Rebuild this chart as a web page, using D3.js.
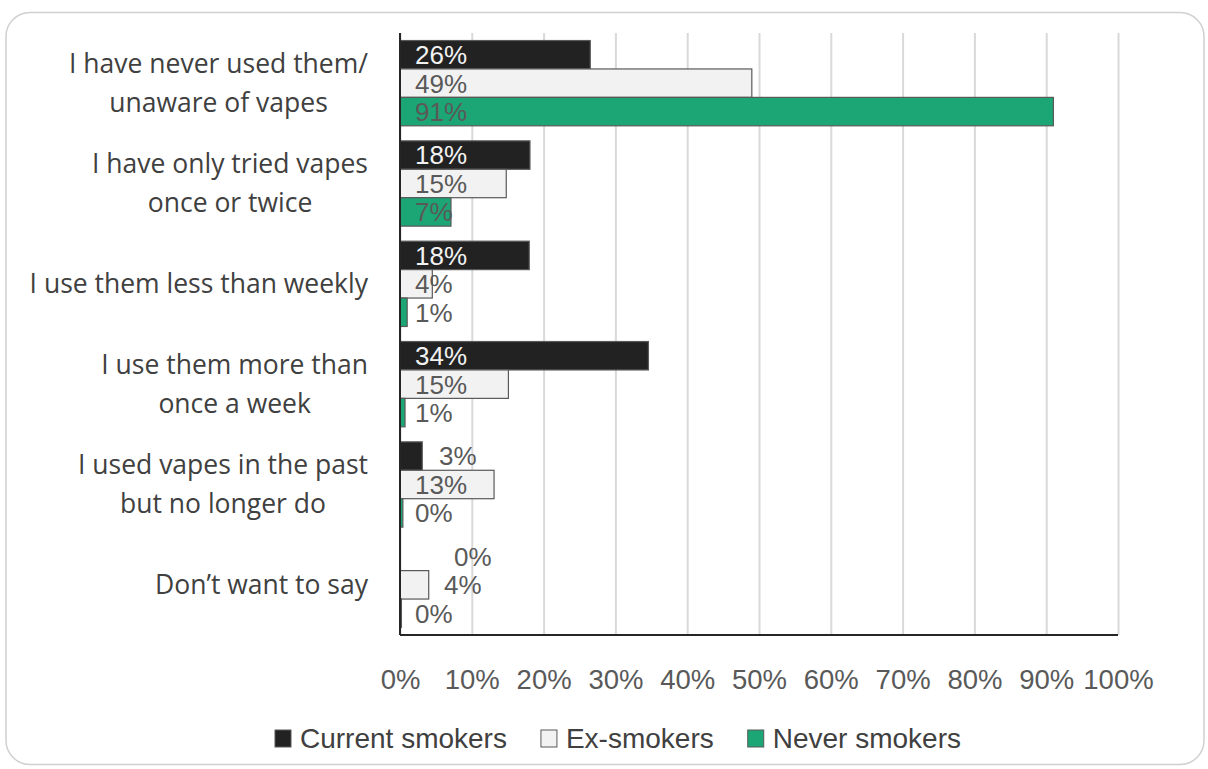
<!DOCTYPE html>
<html>
<head>
<meta charset="utf-8">
<script src="https://cdn.jsdelivr.net/npm/d3@7"></script>
<style>
	body { margin: 0; background: #fff; }
	svg { display: block; }
</style>
</head>
<body>
<div id="chart"></div>
<script>
'use strict';

// categories, top to bottom (each may wrap to two lines)
var categories = [
	["I have never used them/", "unaware of vapes"],
	["I have only tried vapes", "once or twice"],
	["I use them less than weekly"],
	["I use them more than", "once a week"],
	["I used vapes in the past", "but no longer do"],
	["Don\u2019t want to say"]
];

var seriesNames = ["Current smokers", "Ex-smokers", "Never smokers"];

// values, in category order
var currentSmokers = [0.265, 0.181, 0.180, 0.346, 0.031, 0.000];
var exSmokers = [0.490, 0.148, 0.045, 0.151, 0.131, 0.040];
var neverSmokers = [0.910, 0.071, 0.010, 0.007, 0.004, 0.002];

// the labels as printed on the chart
var currentLabels = ["26%", "18%", "18%", "34%", "3%", "0%"];
var exLabels = ["49%", "15%", "4%", "15%", "13%", "4%"];
var neverLabels = ["91%", "7%", "1%", "1%", "0%", "0%"];

var xTicks = [0, 0.1, 0.2, 0.3, 0.4, 0.5, 0.6, 0.7, 0.8, 0.9, 1];

var colours = ["#222222", "#f2f2f2", "#1ca675"];
var labelColours = ["#f2f2f2", "#595959", "#595959"];

// hand nudges for labels that sit past short bars
var labelNudge = { "0|4": 24, "0|5": 39, "1|5": 29 };

var width = 1208, height = 769;
var plotLeft = 400, plotRight = 1118, plotTop = 33, plotBottom = 635;

var rows = categories.map(function (c, i) {
	return {
		index: i,
		lines: c,
		values: [
			{ s: 0, v: currentSmokers[i], label: currentLabels[i] },
			{ s: 1, v: exSmokers[i], label: exLabels[i] },
			{ s: 2, v: neverSmokers[i], label: neverLabels[i] }
		]
	};
});

var svg = d3.select("#chart").append("svg")
	.attr("width", width)
	.attr("height", height);

// frame
svg.append("rect")
	.attr("x", 6).attr("y", 12.5)
	.attr("width", 1198).attr("height", 752)
	.attr("rx", 24)
	.attr("fill", "none")
	.attr("stroke", "#d0d0d0")
	.attr("stroke-width", 1.5);

var x = d3.scaleLinear().domain([0, 1]).range([plotLeft, plotRight]);

var y0 = d3.scaleBand()
	.domain(d3.range(categories.length))
	.range([plotTop, plotBottom])
	.paddingInner(0.15)
	.paddingOuter(0.075);

var y1 = d3.scaleBand()
	.domain([0, 1, 2])
	.range([0, y0.bandwidth()]);

// gridlines + tick labels
var xAxis = d3.axisBottom(x)
	.tickValues(xTicks)
	.tickFormat(d3.format(".0%"))
	.tickSize(-(plotBottom - plotTop))
	.tickPadding(0);

var gx = svg.append("g")
	.attr("transform", "translate(0," + plotBottom + ")")
	.call(xAxis);
gx.select(".domain").remove();
gx.selectAll(".tick line")
	.attr("stroke", "#d9d9d9")
	.attr("stroke-width", 2);
gx.selectAll(".tick text")
	.attr("y", 54)
	.attr("dy", 0)
	.attr("fill", "#595959")
	.style("font-family", "'Liberation Sans', Arial, sans-serif")
	.style("font-size", "27.5px");

// bars
var groups = svg.selectAll(".category")
	.data(rows)
	.enter()
	.append("g")
	.attr("class", "category")
	.attr("transform", function (d) {
		return "translate(0," + y0(d.index) + ")";
	});

groups.selectAll("rect")
	.data(function (d) { return d.values; })
	.enter()
	.append("rect")
	.attr("x", x(0))
	.attr("y", function (d) { return y1(d.s); })
	.attr("width", function (d) { return x(d.v) - x(0); })
	.attr("height", y1.bandwidth())
	.attr("fill", function (d) { return colours[d.s]; })
	.attr("stroke", "#595959")
	.attr("stroke-width", function (d) { return d.v > 0.001 ? 1.2 : 0; });

groups.selectAll("text.value")
	.data(function (d) {
		return d.values.map(function (v) { return Object.assign({ row: d.index }, v); });
	})
	.enter()
	.append("text")
	.attr("class", "value")
	.attr("x", function (d) {
		return x(0) + 15 + (labelNudge[d.s + "|" + d.row] || 0);
	})
	.attr("y", function (d) { return y1(d.s) + y1.bandwidth() / 2; })
	.attr("dy", "0.36em")
	.attr("fill", function (d) {
		// labels pushed out past a bar read on white
		return labelNudge[d.s + "|" + d.row] ? "#595959" : labelColours[d.s];
	})
	.style("font-family", "'Liberation Sans', Arial, sans-serif")
	.style("font-size", "26px")
	.text(function (d) { return d.label; });

// axis lines
svg.append("line")
	.attr("x1", x(0)).attr("x2", x(1))
	.attr("y1", plotBottom).attr("y2", plotBottom)
	.attr("stroke", "#262626")
	.attr("stroke-width", 2);
svg.append("line")
	.attr("x1", x(0)).attr("x2", x(0))
	.attr("y1", plotTop).attr("y2", plotBottom)
	.attr("stroke", "#262626")
	.attr("stroke-width", 2);

// category labels, lines centred, block right-aligned
var labelRight = 368;
var lineGap = 39;
svg.selectAll(".cat-label")
	.data(rows)
	.enter()
	.append("g")
	.attr("class", "cat-label")
	.each(function (d) {
		var g = d3.select(this);
		var mid = y0(d.index) + y0.bandwidth() / 2;
		var texts = d.lines.map(function (line, i) {
			return g.append("text")
				.attr("y", mid + (i - (d.lines.length - 1) / 2) * lineGap)
				.attr("dy", "0.35em")
				.attr("text-anchor", "middle")
				.attr("fill", "#404040")
				.style("font-family", "'Open Sans', sans-serif")
				.style("font-size", "26.5px")
				.text(line);
		});
		var widest = d3.max(texts, function (t) { return t.node().getComputedTextLength(); });
		texts.forEach(function (t) { t.attr("x", labelRight - widest / 2); });
	});

// legend
var legend = svg.append("g").attr("class", "legend");
var cursor = 0;
var itemGap = 34;
seriesNames.forEach(function (name, i) {
	var item = legend.append("g").attr("transform", "translate(" + cursor + ",0)");
	item.append("rect")
		.attr("x", 0).attr("y", -8)
		.attr("width", 16).attr("height", 17)
		.attr("fill", colours[i])
		.attr("stroke", "#595959")
		.attr("stroke-width", 1);
	var t = item.append("text")
		.attr("x", 25)
		.attr("dy", "0.36em")
		.attr("fill", "#404040")
		.style("font-family", "'Liberation Sans', Arial, sans-serif")
		.style("font-size", "28px")
		.text(name);
	cursor += 25 + t.node().getComputedTextLength() + itemGap;
});
var legendWidth = cursor - itemGap;
legend.attr("transform", "translate(" + (618 - legendWidth / 2) + ",738)");
</script>
</body>
</html>
